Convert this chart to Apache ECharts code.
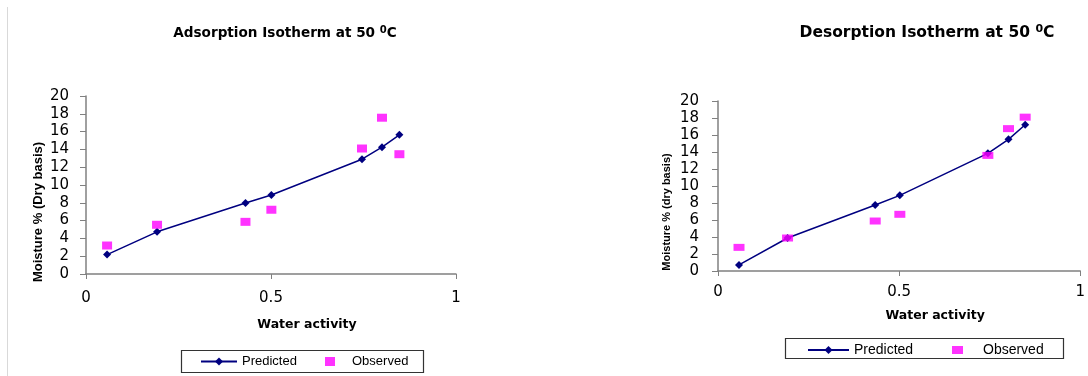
<!DOCTYPE html>
<html><head><meta charset="utf-8">
<script src="https://cdn.jsdelivr.net/npm/echarts@6/dist/echarts.min.js"></script>
<style>html,body{margin:0;padding:0;background:#fff}#c{width:1088px;height:376px}</style>
</head><body><div id="c"></div>
<script>
const adsAw = [0.057, 0.192, 0.431, 0.501, 0.746, 0.800, 0.847];
const adsPredicted = [2.18, 4.74, 7.97, 8.87, 12.9, 14.25, 15.64];
const adsObserved = [3.2, 5.53, 5.86, 7.22, 14.1, 17.56, 13.46];
const desAw = [0.058, 0.192, 0.434, 0.502, 0.745, 0.802, 0.848];
const desPredicted = [0.71, 3.88, 7.76, 8.9, 13.84, 15.49, 17.2];
const desObserved = [2.78, 3.88, 5.88, 6.67, 13.6, 16.75, 18.1];
const titles = ['Adsorption Isotherm at 50 {sup|0}C', 'Desorption Isotherm at 50 {sup|0}C'];
const yNames = ['Moisture % (Dry basis)', 'Moisture % (dry basis)'];
const xName = 'Water activity';
const seriesNames = ['Predicted', 'Observed'];

const pairs = (xs, ys) => xs.map((x, i) => [x, ys[i]]);
const tickFont = { fontFamily: 'DejaVu Sans', fontSize: 15, color: '#000' };
const axisGrey = '#808080';

function xAx(gi, margin, gap) {
  return {
    type: 'value', gridIndex: gi, min: 0, max: 1, interval: 0.5,
    name: xName, nameLocation: 'middle', nameGap: gap,
    nameTextStyle: { fontFamily: 'DejaVu Sans', fontWeight: 'bold', fontSize: 12.5, color: '#000', padding: [0, 0, 0, 72] },
    axisLine: { show: true, lineStyle: { color: axisGrey, width: 1.5 } },
    axisTick: { show: true, inside: false, length: 5, lineStyle: { color: axisGrey } },
    axisLabel: Object.assign({ margin: margin, showMaxLabel: true }, tickFont),
    splitLine: { show: false }
  };
}
function yAx(gi, name, margin, gap, fs, pad) {
  return {
    type: 'value', gridIndex: gi, min: 0, max: 20, interval: 2,
    name: name, nameLocation: 'middle', nameGap: gap, nameRotate: 90,
    nameTextStyle: { fontFamily: 'Liberation Sans', fontWeight: 'bold', fontSize: fs, color: '#000', padding: [0, pad, 0, 0] },
    axisLine: { show: true, lineStyle: { color: axisGrey, width: 1.5 } },
    axisTick: { show: true, length: 6, lineStyle: { color: axisGrey } },
    axisLabel: Object.assign({ margin: margin }, tickFont),
    splitLine: { show: false }
  };
}
function titleObj(text, cx, top, fs) {
  return {
    text: text, left: cx, top: top, textAlign: 'center',
    textStyle: {
      fontFamily: 'DejaVu Sans', fontWeight: 'bold', fontSize: fs, color: '#000',
      rich: { sup: { fontFamily: 'DejaVu Sans', fontWeight: 'bold', fontSize: Math.round(fs * 0.7), verticalAlign: 'top', padding: [0, 0, 6, 0] } }
    }
  };
}
function legendObj(name, left, top, w, h, fs, textPad) {
  return {
    left: left, top: top, orient: 'horizontal', padding: 0,
    data: [name], itemWidth: w, itemHeight: h,
    textStyle: { fontFamily: 'Liberation Sans', fontSize: fs, color: '#000', padding: [0, 0, 0, textPad] },
    selectedMode: false
  };
}
function lineSeries(xi, data) {
  return {
    name: seriesNames[0], type: 'line', xAxisIndex: xi, yAxisIndex: xi, data: data,
    symbol: 'diamond', symbolSize: 8, showAllSymbol: true,
    lineStyle: { color: '#000080', width: 1.5 }, itemStyle: { color: '#000080' },
    animation: false, z: 2
  };
}
function scatterSeries(xi, data, size) {
  return {
    name: seriesNames[1], type: 'scatter', xAxisIndex: xi, yAxisIndex: xi, data: data,
    symbol: 'rect', symbolSize: size, itemStyle: { color: '#FF00FF' }, animation: false, z: 3
  };
}

const chart = echarts.init(document.getElementById('c'), null, { renderer: 'canvas' });
chart.setOption({
  backgroundColor: '#fff',
  animation: false,
  title: [titleObj(titles[0], 280, 20, 13.6), titleObj(titles[1], 922, 19, 15.5)],
  grid: [
    { left: 86, right: 632, top: 96, bottom: 102, containLabel: false },
    { left: 718, right: 0, top: 101, bottom: 105, containLabel: false }
  ],
  xAxis: [xAx(0, 17, 44), xAx(1, 14, 38)],
  yAxis: [yAx(0, yNames[0], 17, 41, 13, 54), yAx(1, yNames[1], 19, 46, 11, 52)],
  legend: [
    legendObj(seriesNames[0], 200, 355, 36, 10, 13, 0),
    legendObj(seriesNames[1], 325, 355, 10, 9, 13, 12),
    legendObj(seriesNames[0], 807, 343, 41, 10, 14, 0),
    legendObj(seriesNames[1], 952, 343, 11, 8, 14, 15)
  ],
  graphic: [
    { type: 'line', shape: { x1: 7.5, y1: 7, x2: 7.5, y2: 376 }, style: { stroke: '#d9d9d9', lineWidth: 1 }, silent: true },
    { type: 'rect', shape: { x: 181.5, y: 350.5, width: 242, height: 22 }, style: { fill: null, stroke: '#333', lineWidth: 1.2 }, silent: true },
    { type: 'rect', shape: { x: 785.5, y: 338.5, width: 278, height: 20 }, style: { fill: null, stroke: '#333', lineWidth: 1.2 }, silent: true }
  ],
  series: [
    lineSeries(0, pairs(adsAw, adsPredicted)),
    scatterSeries(0, pairs(adsAw, adsObserved), [10, 8]),
    lineSeries(1, pairs(desAw, desPredicted)),
    scatterSeries(1, pairs(desAw, desObserved), [11, 7])
  ]
});
</script></body></html>
